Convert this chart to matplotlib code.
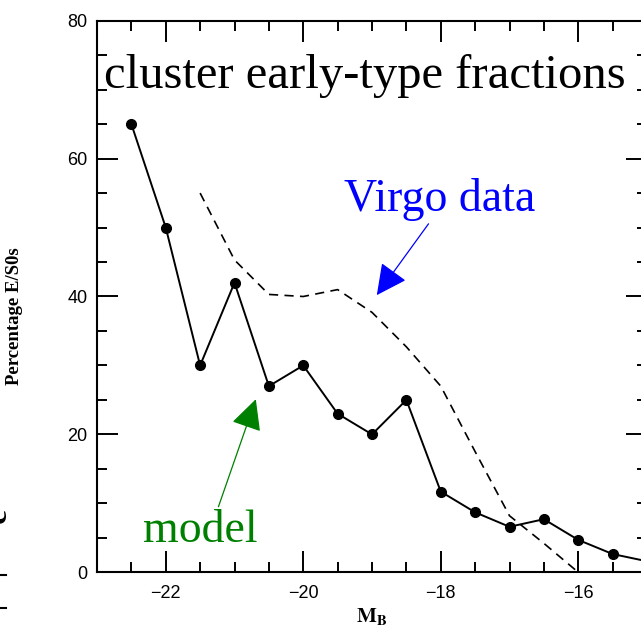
import matplotlib.pyplot as plt
from matplotlib.ticker import MultipleLocator
from matplotlib.lines import Line2D

plt.rcParams["mathtext.fontset"] = "stix"

# model: cluster early-type fraction vs absolute magnitude
model_mag = [-22.5, -22.0, -21.5, -21.0, -20.5, -20.0, -19.5, -19.0,
             -18.5, -18.0, -17.5, -17.0, -16.5, -16.0, -15.5, -15.0]
model_pct = [65, 50, 30, 42, 27, 30, 23, 20,
             25, 11.7, 8.7, 6.6, 7.7, 4.7, 2.65, 1.6]

# Virgo data (dashed)
virgo_mag = [-21.5, -21.0, -20.5, -20.0, -19.5, -19.0, -18.5, -18.0,
             -17.5, -17.0, -16.5, -16.0]
virgo_pct = [55, 45.3, 40.3, 40, 41, 37.7, 32.7, 27,
             17.5, 8.2, 4.2, 0]

xticks = [-22, -20, -18, -16]
yticks = [0, 20, 40, 60, 80]

fig = plt.figure(figsize=(6.41, 6.27), dpi=100)
ax = fig.add_axes([97 / 641, 54.7 / 627, 550 / 641, 551.6 / 627])

ax.plot(model_mag, model_pct, color="black", lw=1.4, marker="o",
        markersize=7)
ax.plot(virgo_mag, virgo_pct, color="black", lw=1.2, dashes=(5.5, 3.8))

ax.set_xlim(-23, -15)
ax.set_ylim(0, 80)
ax.set_xticks(xticks)
ax.set_yticks(yticks)
ax.set_xticklabels(["\u221222", "\u221220", "\u221218", "\u221216"])
ax.xaxis.set_minor_locator(MultipleLocator(0.5))
ax.yaxis.set_minor_locator(MultipleLocator(5))

for s in ax.spines.values():
    s.set_linewidth(1.5)
ax.tick_params(which="both", direction="in", top=True, right=True, width=1.4)
ax.tick_params(which="major", length=15)
ax.tick_params(which="minor", length=7.5)
ax.tick_params(axis="y", pad=7)
ax.tick_params(axis="x", pad=9)
for lab in ax.get_xticklabels() + ax.get_yticklabels():
    lab.set_fontfamily("Liberation Sans")
    lab.set_fontsize(13)

ax.set_xlabel(r"$\mathbf{M_B}$", fontsize=15, labelpad=3)
ax.text(-24.2, 37.2, "Percentage E/S0s", rotation=90, ha="center",
        va="center", family="Liberation Serif", fontweight="bold",
        fontsize=13.5, clip_on=False)

# annotations
ax.text(-22.9, 70.2, "cluster early-type fractions", family="Liberation Serif",
        fontsize=35, color="black", va="baseline", ha="left")
ax.annotate("Virgo data", xy=(-18.93, 40.2), xytext=(-19.40, 52.4),
            family="Liberation Serif", fontsize=33, color="blue",
            va="baseline", ha="left",
            arrowprops=dict(arrowstyle="-|>", color="blue", lw=0.9,
                            mutation_scale=48, shrinkA=0, shrinkB=0,
                            relpos=(0.45, 0.0)))
ax.annotate("model", xy=(-20.69, 25.1), xytext=(-22.33, 4.4),
            family="Liberation Serif", fontsize=33, color="green",
            va="baseline", ha="left",
            arrowprops=dict(arrowstyle="-|>", color="green", lw=0.9,
                            mutation_scale=48, shrinkA=0, shrinkB=0,
                            relpos=(0.65, 1.0)))

# fragments of the neighbouring panel at the left edge
for yp in (575, 608):
    fig.add_artist(Line2D([0, 6 / 641], [1 - yp / 627] * 2, color="black",
                          lw=1.5, transform=fig.transFigure))
fig.text(-3 / 641, 1 - 516 / 627, "e", rotation=90, family="Liberation Serif",
         fontweight="bold", fontsize=24, ha="center", va="center")

fig.savefig("out.png", dpi=100)
